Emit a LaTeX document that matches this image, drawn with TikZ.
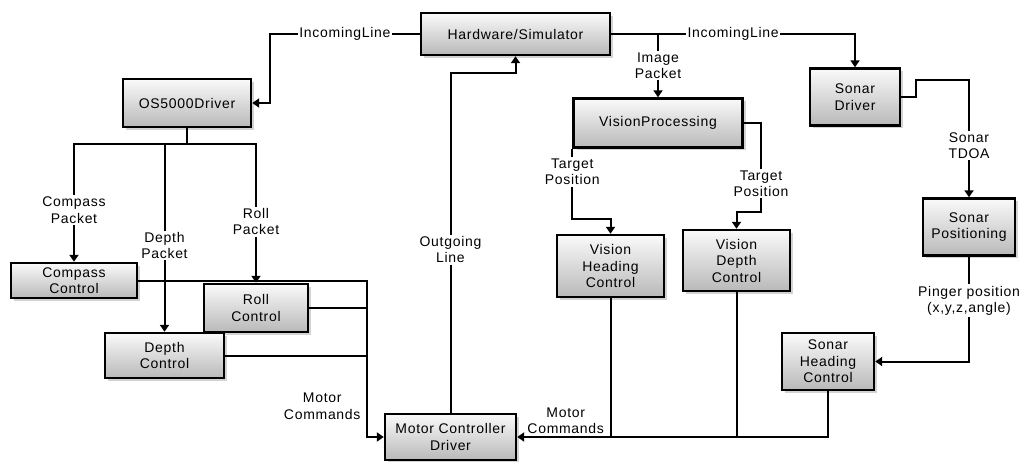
\documentclass[tikz,border=0pt]{standalone}
\usepackage{fontspec}
\setmainfont{Liberation Sans}[LetterSpace=5]
\usetikzlibrary{arrows.meta,positioning,shadows}

\begin{document}
\begin{tikzpicture}[x=1pt,y=-1pt,>={Triangle[length=7pt,width=9pt]},
  font=\fontsize{14}{16.5}\selectfont,
  block/.style={draw,line width=2.4pt,top color=gray!4,bottom color=gray!55,
    drop shadow={shadow xshift=3pt,shadow yshift=-3pt,opacity=0.35},
    align=center,inner sep=0pt},
  wire/.style={line width=2pt},
  conn/.style={wire,->},
  lbl/.style={fill=white,align=center,inner sep=1.5pt}]
  \useasboundingbox (0,0) rectangle (1022,462);

  % boxes
  \node[block,minimum width=189pt,minimum height=42pt] (hw) at (515.5,34) {Hardware/Simulator};
  \node[block,minimum width=128pt,minimum height=48pt] (os) at (187,103) {OS5000Driver};
  \node[block,minimum width=169pt,minimum height=49pt] (vp) at (658,123) {VisionProcessing};
  \node[block,minimum width=90pt,minimum height=57pt] (sd) at (855,97) {Sonar\\Driver};
  \node[block,minimum width=126pt,minimum height=35pt] (cc) at (74,280.5) {Compass\\Control};
  \node[block,minimum width=104pt,minimum height=48pt] (rc) at (256,308) {Roll\\Control};
  \node[block,minimum width=119pt,minimum height=45pt] (dc) at (164.5,355.5) {Depth\\Control};
  \node[block,minimum width=131pt,minimum height=46pt] (mcd) at (450.5,437) {Motor Controller\\Driver};
  \node[block,minimum width=107pt,minimum height=62pt] (vhc) at (610.5,266) {Vision\\Heading\\Control};
  \node[block,minimum width=107pt,minimum height=61pt] (vdc) at (736.5,260.5) {Vision\\Depth\\Control};
  \node[block,minimum width=92pt,minimum height=57pt] (sp) at (969,227) {Sonar\\Positioning};
  \node[block,minimum width=92pt,minimum height=57pt] (shc) at (828,361.5) {Sonar\\Heading\\Control};

  % hardware out
  \draw[conn] (hw.west) -- node[lbl] {IncomingLine} (270,34) |- (os.east);
  \draw[conn] (hw.east) -- node[lbl] {IncomingLine} (sd.north |- hw.east) -- (sd.north);
  \draw[conn] (vp.north |- hw.east) -- node[lbl] {Image\\Packet} (vp.north);

  % compass packets
  \coordinate (split) at (187,144);
  \draw[wire] (os.south) -- (split);
  \draw[conn] (split) -| node[lbl,pos=0.78] {Compass\\Packet} (cc.north);
  \draw[conn] (split) -| node[lbl,pos=0.77] {Depth\\Packet} (dc.north);
  \draw[conn] (split) -| node[lbl,pos=0.78] {Roll\\Packet} (rc.north);

  % motor commands, left side
  \coordinate (mbus) at (367,437);
  \draw[conn] (cc.east) -| (mbus) -- (mcd.west);
  \draw[wire] (rc.east) -- (rc.east -| mbus);
  \draw[wire] (dc.east) -- (dc.east -| mbus);
  \node[anchor=east,align=center] (mcleft) at (364,406) {Motor\\Commands};

  % outgoing
  \draw[conn] (mcd.north) -- node[lbl,pos=0.48] {Outgoing\\Line} (mcd.north |- 0,73) -| (hw.south);

  % vision
  \draw[conn] (vp.south west) -- node[lbl,pos=0.33] {Target\\Position} (vp.south west |- 0,219) -| (vhc.north);
  \draw[conn] (vp.east) -| node[lbl,pos=0.84] {Target\\Position} (761,212) -| (vdc.north);
  \draw[conn] (vhc.south) |- node[above,align=center,pos=0.74,inner sep=2pt] (mcright) {Motor\\Commands} (mcd.east);
  \draw[wire] (shc.south) |- (vhc.south |- mcd.east);
  \draw[wire] (vdc.south) -- (vdc.south |- mcd.east);

  % sonar
  \draw[conn] (sd.east) -- (916,97) |- (sp.north |- 0,80) -- node[lbl,pos=0.56] {Sonar\\TDOA} (sp.north);
  \draw[conn] (sp.south) |- node[lbl,pos=0.21] {Pinger position\\(x,y,z,angle)} (shc.east);
\end{tikzpicture}
\end{document}
